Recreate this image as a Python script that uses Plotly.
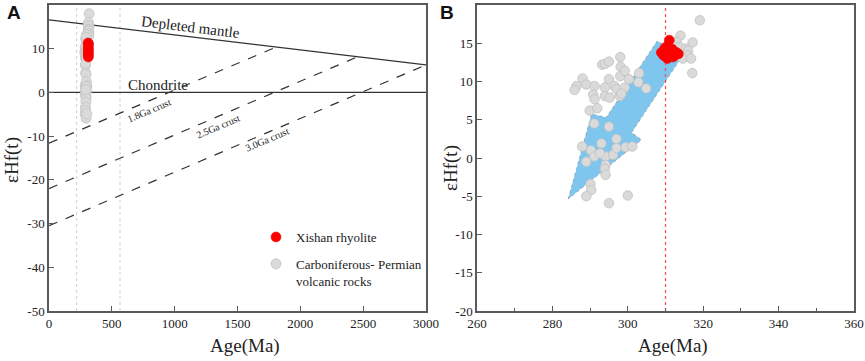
import plotly.graph_objects as go

# ---------------- data ----------------
# Panel A reference lines (Age Ma, eHf)
dm_age = [0, 3000]
dm_eps = [16.6, 6.3]
chon_age = [0, 3000]
chon_eps = [0, 0]
c18_age = [0, 1810]
c18_eps = [-11.6, 10.4]
c25_age = [0, 2460]
c25_eps = [-22.0, 8.2]
c30_age = [0, 3000]
c30_eps = [-30.5, 6.3]
guide_ages_a = [220, 565]

# Carboniferous-Permian volcanic rocks
gray_age = [319.1, 314.0, 317.2, 312.9, 313.8, 315.5, 316.0, 315.9, 314.6, 316.8, 317.1,
            298.0, 298.1, 293.2, 293.9, 295.0, 298.0, 299.2, 303.0, 302.8, 304.9, 300.3,
            288.0, 286.4, 285.9, 289.0, 291.2, 293.9, 295.0, 296.5, 297.0, 299.2, 290.8,
            293.9, 297.9, 298.3, 291.2, 295.2, 289.9, 291.9,
            291.1, 295.0, 287.9, 293.0, 297.0, 299.4, 301.2, 290.2, 291.1, 294.1, 296.1,
            297.0, 289.0, 294.1, 293.9, 294.1, 290.1, 290.3, 289.0, 295.0, 300.0, 292.6]
gray_eps = [18.0, 16.0, 15.1, 15.2, 14.5, 14.3, 14.0, 13.4, 13.0, 13.0, 11.1,
            13.2, 11.9, 12.2, 12.3, 12.6, 10.7, 11.4, 11.1, 9.9, 9.1, 10.3,
            10.4, 9.4, 8.9, 9.6, 9.4, 9.2, 10.3, 9.4, 9.0, 9.2, 8.3,
            8.1, 8.1, 8.4, 7.7, 7.9, 6.2, 6.5,
            4.5, 4.1, 1.5, 1.9, 2.5, 1.4, 1.5, 1.0, 0.2, 0.2, 0.4,
            1.3, -0.5, -0.9, -1.4, -2.2, -3.4, -4.2, -5.0, -5.9, -4.9, 0.6]

# Xishan rhyolite
red_age_a = [312.0, 313.5, 312.5, 314.0, 312.8, 313.6, 312.4, 313.2]
red_eps_a = [11.3, 10.9, 10.3, 9.8, 9.3, 8.9, 8.5, 8.1]
red_age_b = [311.0, 310.2, 309.8, 308.9, 309.5, 310.7, 311.6, 312.0, 312.9, 313.4, 311.8, 310.5]
red_eps_b = [15.4, 14.5, 14.3, 13.8, 13.4, 13.6, 13.6, 13.2, 13.8, 13.6, 14.2, 13.0]

# Panel B arrow outline
arrow_age = [284.2, 290.4, 294.3, 307.8, 314.4, 301.0, 303.6, 284.2]
arrow_eps = [-5.35, 5.74, 5.3, 15.3, 13.3, 3.34, 2.37, -5.35]
ref_age_b = 310

# tick labels (plain hyphen minus as in the original)
ytick_a_vals = [20, 10, 0, -10, -20, -30, -40, -50]
ytick_a_text = ["20", "10", "0", "-10", "-20", "-30", "-40", "-50"]
ytick_b_vals = [20, 15, 10, 5, 0, -5, -10, -15, -20]
ytick_b_text = ["20", "15", "10", "5", "0", "-5", "-10", "-15", "-20"]

# ---------------- figure ----------------
SERIF = "Liberation Serif, 'Times New Roman', Times, serif"
FRAME = "#5a5a5a"
fig = go.Figure()

# Panel A
for a in guide_ages_a:
    fig.add_trace(go.Scatter(x=[a, a], y=[-50, 20], mode="lines", xaxis="x", yaxis="y",
                             line=dict(color="#cfcfcf", width=1, dash="dot"),
                             showlegend=False, hoverinfo="skip"))
fig.add_trace(go.Scatter(x=dm_age, y=dm_eps, mode="lines", line=dict(color="#333", width=1.3),
                         showlegend=False, xaxis="x", yaxis="y"))
fig.add_trace(go.Scatter(x=chon_age, y=chon_eps, mode="lines", line=dict(color="#333", width=1.3),
                         showlegend=False, xaxis="x", yaxis="y"))
for xa, ya in [(c18_age, c18_eps), (c25_age, c25_eps), (c30_age, c30_eps)]:
    fig.add_trace(go.Scatter(x=xa, y=ya, mode="lines", line=dict(color="#333", width=1.2, dash="dash"),
                             showlegend=False, xaxis="x", yaxis="y"))

fig.add_trace(go.Scatter(x=gray_age, y=gray_eps, mode="markers", xaxis="x", yaxis="y",
                         name="Carboniferous- Permian<br>volcanic rocks", legendgroup="g2",
                         legendrank=2,
                         marker=dict(size=10, color="#dadada", line=dict(color="#c4c4c4", width=0.8))))
fig.add_trace(go.Scatter(x=red_age_a, y=red_eps_a, mode="markers", xaxis="x", yaxis="y",
                         name="Xishan rhyolite", legendgroup="g1", legendrank=1,
                         marker=dict(size=10, color="#ff0000", line=dict(color="#ee0000", width=0.5))))

# Panel B
fig.add_trace(go.Scatter(x=arrow_age, y=arrow_eps, mode="lines", fill="toself",
                         fillcolor="#7fc6ee", line=dict(color="#8a9aa8", width=0.8, dash="dot"),
                         xaxis="x2", yaxis="y2", showlegend=False, hoverinfo="skip"))
fig.add_trace(go.Scatter(x=[ref_age_b, ref_age_b], y=[-20, 20], mode="lines",
                         line=dict(color="#ff4a4a", width=1.2, dash="dot"),
                         xaxis="x2", yaxis="y2", showlegend=False, hoverinfo="skip"))
fig.add_trace(go.Scatter(x=gray_age, y=gray_eps, mode="markers", xaxis="x2", yaxis="y2",
                         showlegend=False,
                         marker=dict(size=9.5, color="#dadada", line=dict(color="#c0c0c0", width=0.8))))
fig.add_trace(go.Scatter(x=red_age_b, y=red_eps_b, mode="markers", xaxis="x2", yaxis="y2",
                         showlegend=False,
                         marker=dict(size=10, color="#ff0000", line=dict(color="#ee0000", width=0.5))))

axis_common = dict(showline=True, linecolor=FRAME, linewidth=1.5, mirror=True,
                   ticks="inside", ticklen=5, tickcolor=FRAME, tickwidth=1.2,
                   showgrid=False, zeroline=False, automargin=False,
                   tickfont=dict(family=SERIF, size=13, color="#222"))

ydom = [1 - 311 / 361, 1 - 5 / 361]
fig.update_layout(
    width=865, height=361, margin=dict(l=0, r=0, t=0, b=0, pad=0),
    paper_bgcolor="white", plot_bgcolor="white",
    font=dict(family=SERIF, size=13, color="#222"),
    xaxis=dict(domain=[49 / 865, 426 / 865], range=[0, 3000], dtick=500, anchor="y", **axis_common),
    yaxis=dict(domain=ydom, range=[-50, 20], tickmode="array", tickvals=ytick_a_vals,
               ticktext=ytick_a_text, anchor="x", **axis_common),
    xaxis2=dict(domain=[477 / 865, 854 / 865], range=[260, 360], dtick=20, anchor="y2",
                minor=dict(ticks="inside", ticklen=3, dtick=10, tickcolor=FRAME), **axis_common),
    yaxis2=dict(domain=ydom, range=[-20, 20], tickmode="array", tickvals=ytick_b_vals,
                ticktext=ytick_b_text, anchor="x2", **axis_common),
    legend=dict(x=256 / 865, y=1 - 222 / 361, xanchor="left", yanchor="top",
                bgcolor="rgba(0,0,0,0)", font=dict(family=SERIF, size=13, color="#222"),
                valign="top", tracegroupgap=7, traceorder="grouped"),
    showlegend=True,
)

ann = []
# line labels in panel A
ann.append(dict(x=1122, y=14.9, xref="x", yref="y", text="Depleted mantle", showarrow=False,
                textangle=7, font=dict(family=SERIF, size=15, color="#222")))
ann.append(dict(x=867, y=1.7, xref="x", yref="y", text="Chondrite", showarrow=False,
                font=dict(family=SERIF, size=15, color="#222")))
ann.append(dict(x=796, y=-4.1, xref="x", yref="y", text="1.8Ga crust", showarrow=False,
                textangle=-23, font=dict(family=SERIF, size=10, color="#222")))
ann.append(dict(x=1345, y=-7.8, xref="x", yref="y", text="2.5Ga crust", showarrow=False,
                textangle=-23, font=dict(family=SERIF, size=10, color="#222")))
ann.append(dict(x=1735, y=-10.7, xref="x", yref="y", text="3.0Ga crust", showarrow=False,
                textangle=-23, font=dict(family=SERIF, size=10, color="#222")))
# panel letters
ann.append(dict(x=14 / 865, y=1 - 13 / 361, xref="paper", yref="paper", text="<b>A</b>",
                xanchor="center", yanchor="middle",
                showarrow=False, font=dict(family="Liberation Sans", size=19, color="#111")))
ann.append(dict(x=447 / 865, y=1 - 13 / 361, xref="paper", yref="paper", text="<b>B</b>",
                xanchor="center", yanchor="middle",
                showarrow=False, font=dict(family="Liberation Sans", size=19, color="#111")))
# axis titles
for xc in (245, 673):
    ann.append(dict(x=xc / 865, y=1 - 346 / 361, xref="paper", yref="paper", text="Age(Ma)",
                    xanchor="center", yanchor="middle",
                    showarrow=False, font=dict(family=SERIF, size=19, color="#222")))
for xc, yc in ((12, 160), (451, 168)):
    ann.append(dict(x=xc / 865, y=1 - yc / 361, xref="paper", yref="paper", text="εHf(t)",
                    xanchor="center", yanchor="middle",
                    textangle=-90, showarrow=False, font=dict(family=SERIF, size=19, color="#222")))
fig.update_layout(annotations=ann)

fig.write_html("out.html", config={"displayModeBar": False},
               post_script="document.body.style.margin='0px';document.body.style.overflow='hidden';")
